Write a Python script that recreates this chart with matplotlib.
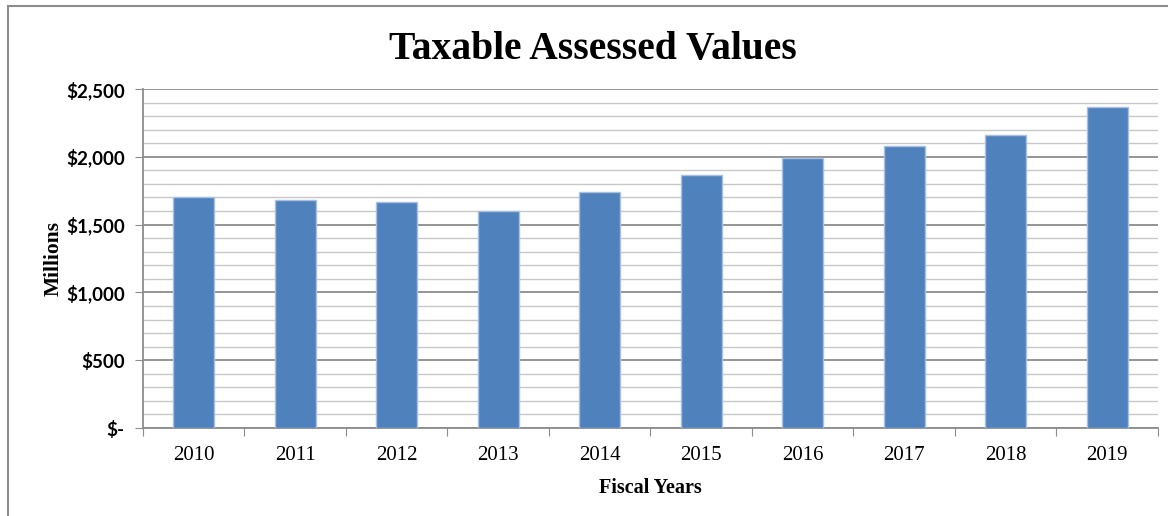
import numpy as np
import matplotlib.pyplot as plt
from matplotlib.ticker import MultipleLocator, FuncFormatter
from matplotlib.patches import Rectangle

# data (millions of dollars)
years = ['2010', '2011', '2012', '2013', '2014', '2015', '2016', '2017', '2018', '2019']
values = [1703, 1681, 1670, 1604, 1740, 1866, 1990, 2077, 2161, 2364]

bar_color = '#4F81BD'
edge_color = '#A9C1E0'

fig = plt.figure(figsize=(11.68, 5.16), dpi=100)
ax = fig.add_axes([0.1224, 0.1705, 0.8690, 0.6570])

x = np.arange(len(years))
ax.bar(x, values, width=0.4, color=bar_color, edgecolor=edge_color, linewidth=1, zorder=3)

ax.set_xlim(-0.5, len(years) - 0.5)
ax.set_ylim(0, 2500)

# y axis: major every 500, minor every 100
ax.yaxis.set_major_locator(MultipleLocator(500))
ax.yaxis.set_minor_locator(MultipleLocator(100))
ax.yaxis.set_major_formatter(FuncFormatter(lambda v, p: '$-' if v == 0 else '${:,.0f}'.format(v)))
ax.grid(which='major', axis='y', color='#8C8C8C', linewidth=1.3, zorder=0)
ax.grid(which='minor', axis='y', color='#C8C8C8', linewidth=1.0, zorder=0)
ax.tick_params(axis='y', which='major', length=6, color='#8C8C8C', pad=7)
ax.tick_params(axis='y', which='minor', length=0)

# x axis: tick marks between categories, labels centred
ax.set_xticks(np.arange(-0.5, len(years), 1.0))
ax.set_xticklabels([])
ax.set_xticks(x, minor=True)
ax.set_xticklabels(years, minor=True, fontfamily='Liberation Serif', fontsize=15)
ax.tick_params(axis='x', which='major', length=6, color='#8C8C8C')
ax.tick_params(axis='x', which='minor', length=0, pad=13)

for lbl in ax.get_yticklabels():
    lbl.set_fontfamily('Lato')
    lbl.set_fontweight('bold')
    lbl.set_fontsize(13.5)

for s in ['top', 'right']:
    ax.spines[s].set_visible(False)
for s in ['left', 'bottom']:
    ax.spines[s].set_color('#8C8C8C')
    ax.spines[s].set_linewidth(1.3)

ax.set_xlabel('Fiscal Years', fontfamily='Liberation Serif', fontweight='bold', fontsize=14.5, labelpad=9)
ax.set_ylabel('Millions', fontfamily='Liberation Serif', fontweight='bold', fontsize=15.5, labelpad=2)

fig.text(0.508, 0.905, 'Taxable Assessed Values', ha='center', va='center',
         fontfamily='Liberation Serif', fontweight='bold', fontsize=28.5)

# outer chart border (only left/top visible in the crop)
fig.patches.append(Rectangle((8 / 1168, -0.05), 1.2, 1.05 - 6 / 516, transform=fig.transFigure,
                             fill=False, edgecolor='#8C8C8C', linewidth=1.5))

fig.savefig('out.png', dpi=100)
